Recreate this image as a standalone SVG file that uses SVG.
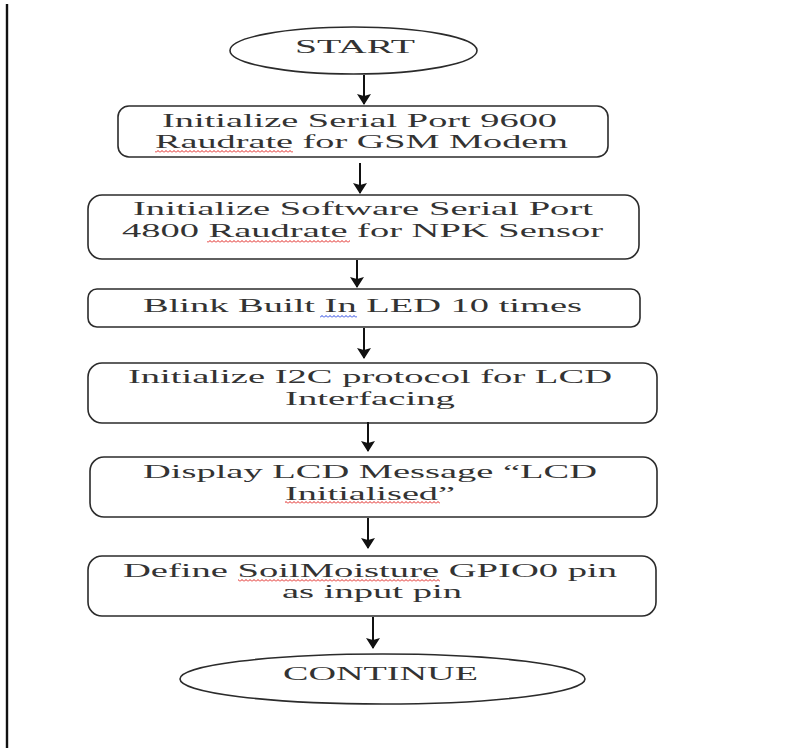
<svg xmlns="http://www.w3.org/2000/svg" width="798" height="748" viewBox="0 0 798 748">
  <style>
    .shape { fill: #ffffff; stroke: #2b2b2b; stroke-width: 1.6; }
    .label { font-family: "Liberation Serif", "Times New Roman", serif; font-size: 18px; fill: #333333; }
    .flow { stroke: #111111; stroke-width: 2; fill: none; marker-end: url(#head); }
    .frame { stroke: #111111; stroke-width: 2.4; }
  </style>
  <defs>
    <marker id="head" markerUnits="userSpaceOnUse" markerWidth="11" markerHeight="14" viewBox="0 0 11 14" refX="10" refY="7" orient="auto">
      <path d="M0,0 L11,7 L0,14 L2,7 Z" fill="#111111"/>
    </marker>
    <!-- wavy spell-check underline tiles -->
    <pattern id="waveRed" width="4" height="3" patternUnits="userSpaceOnUse">
      <path d="M0,2.5 L2,0.5 L4,2.5" fill="none" stroke="#e0201b" stroke-width="1"/>
    </pattern>
    <pattern id="waveBlue" width="4" height="3" patternUnits="userSpaceOnUse">
      <path d="M0,2.5 L2,0.5 L4,2.5" fill="none" stroke="#1f3de0" stroke-width="1"/>
    </pattern>
  </defs>

  <!-- left margin rule -->
  <line class="frame" x1="7" y1="4" x2="7" y2="748"/>

  <g id="start">
    <ellipse class="shape" cx="353.5" cy="50.5" rx="123.5" ry="23.5"/>
    <text class="label" x="295" y="53" textLength="120" lengthAdjust="spacingAndGlyphs">START</text>
  </g>

  <g id="init-serial">
    <rect class="shape" x="118" y="106" width="490" height="51" rx="11"/>
    <text class="label" x="162" y="127" textLength="395" lengthAdjust="spacingAndGlyphs">Initialize Serial Port 9600</text>
    <text class="label" x="155" y="148" textLength="413" lengthAdjust="spacingAndGlyphs">Raudrate for GSM Modem</text>
    <rect x="155" y="150" width="138" height="3" fill="url(#waveRed)"/>
  </g>

  <g id="init-soft-serial">
    <rect class="shape" x="88" y="195" width="551" height="64" rx="14"/>
    <text class="label" x="133" y="215" textLength="460" lengthAdjust="spacingAndGlyphs">Initialize Software Serial Port</text>
    <text class="label" x="122" y="237" textLength="481" lengthAdjust="spacingAndGlyphs">4800 Raudrate for NPK Sensor</text>
    <rect x="207" y="240" width="143" height="3" fill="url(#waveRed)"/>
  </g>

  <g id="blink-led">
    <rect class="shape" x="88" y="289" width="552" height="38" rx="9"/>
    <text class="label" x="143" y="312" textLength="439" lengthAdjust="spacingAndGlyphs">Blink Built In LED 10 times</text>
    <rect x="320" y="315" width="37" height="3" fill="url(#waveBlue)"/>
  </g>

  <g id="init-i2c">
    <rect class="shape" x="88" y="363" width="569" height="60" rx="14"/>
    <text class="label" x="128" y="383" textLength="484" lengthAdjust="spacingAndGlyphs">Initialize I2C protocol for LCD</text>
    <text class="label" x="285" y="405" textLength="170" lengthAdjust="spacingAndGlyphs">Interfacing</text>
  </g>

  <g id="lcd-message">
    <rect class="shape" x="90" y="457" width="567" height="60" rx="14"/>
    <text class="label" x="143" y="478" textLength="454" lengthAdjust="spacingAndGlyphs">Display LCD Message “LCD</text>
    <text class="label" x="285" y="500" textLength="170" lengthAdjust="spacingAndGlyphs">Initialised”</text>
    <rect x="285" y="501" width="155" height="3" fill="url(#waveRed)"/>
  </g>

  <g id="define-pin">
    <rect class="shape" x="88" y="556" width="568" height="60" rx="14"/>
    <text class="label" x="123" y="577" textLength="494" lengthAdjust="spacingAndGlyphs">Define SoilMoisture GPIO0 pin</text>
    <text class="label" x="282" y="598" textLength="180" lengthAdjust="spacingAndGlyphs">as input pin</text>
    <rect x="238" y="579" width="202" height="3" fill="url(#waveRed)"/>
  </g>

  <g id="continue">
    <ellipse class="shape" cx="382.5" cy="679" rx="202.5" ry="25"/>
    <text class="label" x="283" y="680" textLength="195" lengthAdjust="spacingAndGlyphs">CONTINUE</text>
  </g>

  <g id="connectors">
    <line class="flow" x1="364" y1="75" x2="364" y2="104"/>
    <line class="flow" x1="360" y1="163" x2="360" y2="193"/>
    <line class="flow" x1="357" y1="260" x2="357" y2="287"/>
    <line class="flow" x1="364" y1="328" x2="364" y2="358"/>
    <line class="flow" x1="368" y1="422" x2="368" y2="451"/>
    <line class="flow" x1="368" y1="518" x2="368" y2="548"/>
    <line class="flow" x1="373" y1="617" x2="373" y2="648"/>
  </g>
</svg>
